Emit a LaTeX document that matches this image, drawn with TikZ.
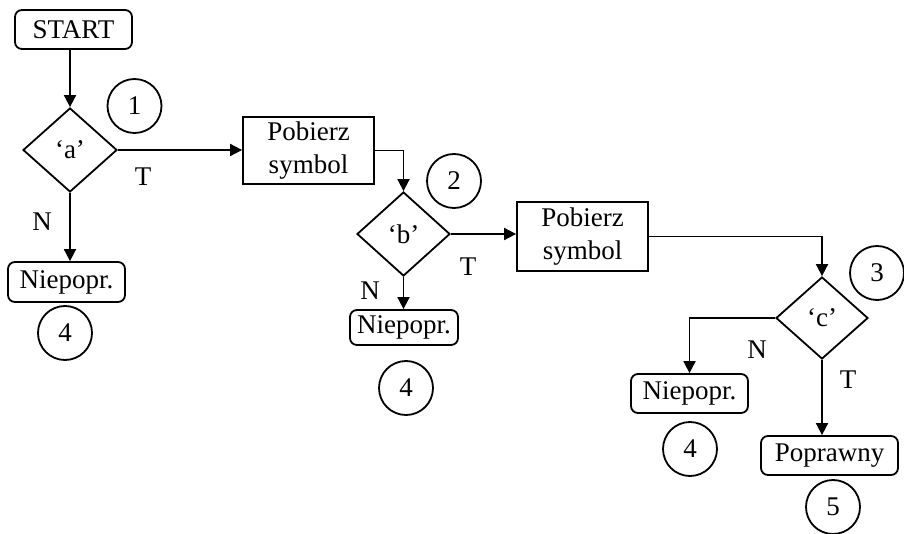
\documentclass[tikz,border=0pt]{standalone}
\usepackage{fontspec}
\setmainfont{Liberation Serif}
\usetikzlibrary{shapes.geometric,arrows.meta}

\tikzset{
  flow/.style={line width=1.8pt,-{Triangle[length=12pt,width=12pt]}},
  endbox/.style={draw,line width=1.8pt,rounded corners=7pt,inner sep=0pt},
  procbox/.style={draw,line width=1.8pt,inner sep=0pt,align=center},
  test/.style={draw,diamond,line width=1.8pt,inner sep=0pt},
  mark circle/.style={draw,circle,line width=1.8pt,minimum size=54pt,inner sep=0pt},
  lbl/.style={inner sep=0pt}
}

\begin{document}
\begin{tikzpicture}[x=1pt,y=-1pt,font=\fontsize{27}{33}\selectfont]
\useasboundingbox (0,0) rectangle (904,534);

% terminals and steps
\node[endbox,minimum width=117pt,minimum height=39pt] (start) at (73.5,29.5) {START};
\node[test,minimum width=94pt,minimum height=84pt] (a) at (70,150) {‘a’};
\node[endbox,minimum width=117pt,minimum height=40pt] (na) at (66.5,282) {Niepopr.};

\node[procbox,minimum width=131pt,minimum height=67pt] (p1) at (308.5,150.5) {Pobierz\\symbol};
\node[test,minimum width=93pt,minimum height=84pt] (b) at (403.5,234) {‘b’};
\node[endbox,minimum width=108pt,minimum height=35pt] (nb) at (404,327.5) {Niepopr.};

\node[procbox,minimum width=131pt,minimum height=69pt] (p2) at (582.5,236.5) {Pobierz\\symbol};
\node[test,minimum width=92pt,minimum height=82pt] (c) at (822,318) {‘c’};
\node[endbox,minimum width=117pt,minimum height=39pt] (nc) at (689.5,393.5) {Niepopr.};
\node[endbox,minimum width=137pt,minimum height=39pt] (ok) at (829.5,455.5) {Poprawny};

% state markers
\node[mark circle] (s1) at (134.5,106) {1};
\node[mark circle] (s2) at (454,181) {2};
\node[mark circle] (s3) at (877,273) {3};
\node[mark circle] (s4a) at (65,333) {4};
\node[mark circle] (s4b) at (406,388) {4};
\node[mark circle] (s4c) at (690,449) {4};
\node[mark circle] (s5) at (833,507) {5};

% connectors
\draw[flow] (a.north |- start.south) -- (a.north);
\draw[flow] (a.east) -- (a.east -| p1.west);
\draw[flow] (a.south) -- (a.south |- na.north);
\draw[flow] (p1.east) -| (b.north);
\draw[flow] (b.east) -- (b.east -| p2.west);
\draw[flow] (b.south) -- (b.south |- nb.north);
\draw[flow] (p2.east) -| (c.north);
\draw[flow] (c.west) -| (nc.north);
\draw[flow] (c.south) -- (c.south |- ok.north);

% branch labels
\node[lbl] (ta) at (143,177) {T};
\node[lbl] (fa) at (42,222) {N};
\node[lbl] (tb) at (468,267) {T};
\node[lbl] (fb) at (370,291) {N};
\node[lbl] (fc) at (757,350) {N};
\node[lbl] (tc) at (848,380) {T};
\end{tikzpicture}
\end{document}
